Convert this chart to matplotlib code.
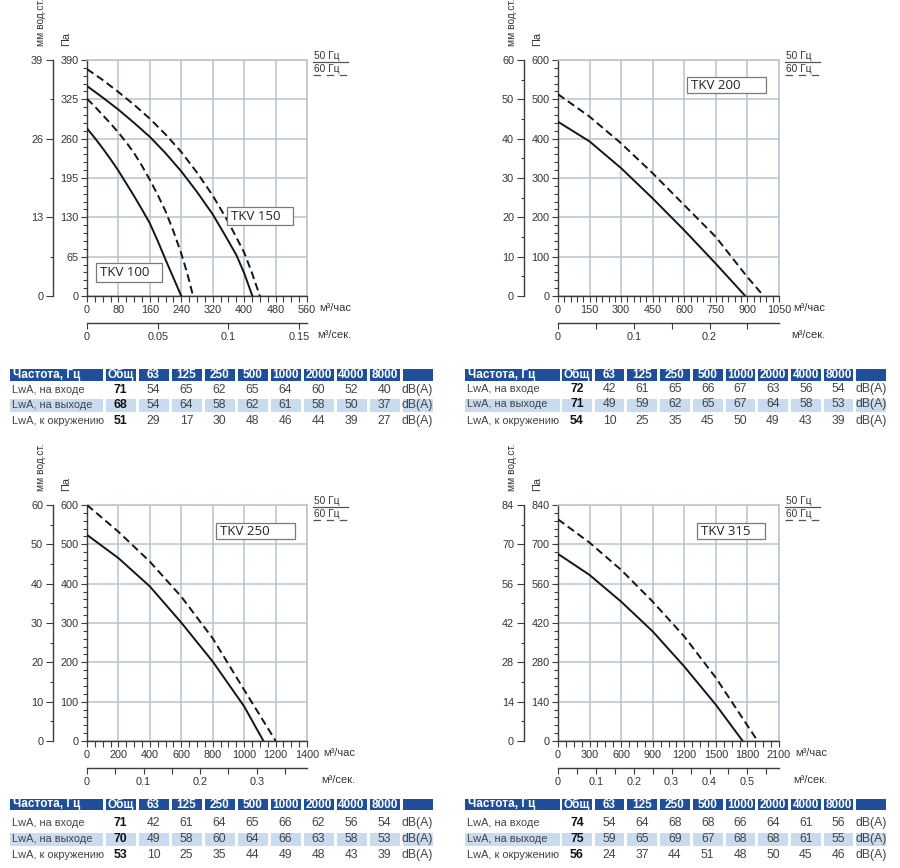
import numpy as np
import matplotlib
matplotlib.use("Agg")
import matplotlib.pyplot as plt
from matplotlib import font_manager
from matplotlib.ticker import MultipleLocator, NullFormatter
from matplotlib.patches import Rectangle

W, H = 900, 868

# ---- кривые: расход (м³/час) и давление (Па) ----
tkv100_q50 = [0, 20, 40, 60, 80, 100, 120, 140, 160, 180, 200, 220, 240]
tkv100_p50 = [277, 261, 244, 226, 207, 186, 165, 143, 120, 91, 60, 30, 0]
tkv100_q60 = [0, 20, 40, 60, 80, 100, 120, 140, 160, 180, 200, 220, 240, 255, 270]
tkv100_p60 = [326, 313, 299, 285, 270, 254, 236, 215, 192, 167, 140, 107, 70, 38, 0]
tkv150_q50 = [0, 40, 80, 120, 160, 200, 240, 280, 320, 350, 380, 400, 421]
tkv150_p50 = [347, 328, 308, 286, 263, 236, 206, 172, 135, 102, 68, 38, 0]
tkv150_q60 = [0, 40, 80, 120, 160, 200, 240, 280, 320, 360, 400, 420, 440]
tkv150_p60 = [375, 357, 337, 316, 293, 267, 238, 204, 166, 122, 72, 38, 0]

tkv200_q50 = [0, 150, 300, 450, 600, 750, 890]
tkv200_p50 = [443, 393, 325, 248, 167, 82, 0]
tkv200_q60 = [0, 150, 300, 450, 600, 750, 900, 977]
tkv200_p60 = [513, 456, 388, 312, 231, 150, 48, 0]

tkv250_q50 = [0, 200, 400, 600, 800, 1000, 1123]
tkv250_p50 = [524, 465, 393, 301, 202, 88, 0]
tkv250_q60 = [0, 200, 400, 600, 800, 1000, 1201]
tkv250_p60 = [600, 532, 456, 367, 261, 130, 0]

tkv315_q50 = [0, 300, 600, 900, 1200, 1500, 1755]
tkv315_p50 = [666, 591, 496, 390, 265, 129, 0]
tkv315_q60 = [0, 300, 600, 900, 1200, 1500, 1897]
tkv315_p60 = [789, 706, 609, 496, 372, 225, 0]

# ---- шумовые таблицы ----
bands = ["63", "125", "250", "500", "1000", "2000", "4000", "8000"]
row_names = ["LwA, на входе", "LwA, на выходе", "LwA, к окружению"]

t150_total = [71, 68, 51]
t150_levels = [[54, 65, 62, 65, 64, 60, 52, 40],
               [54, 64, 58, 62, 61, 58, 50, 37],
               [29, 17, 30, 48, 46, 44, 39, 27]]
t200_total = [72, 71, 54]
t200_levels = [[42, 61, 65, 66, 67, 63, 56, 54],
               [49, 59, 62, 65, 67, 64, 58, 53],
               [10, 25, 35, 45, 50, 49, 43, 39]]
t250_total = [71, 70, 53]
t250_levels = [[42, 61, 64, 65, 66, 62, 56, 54],
               [49, 58, 60, 64, 66, 63, 58, 53],
               [10, 25, 35, 44, 49, 48, 43, 39]]
t315_total = [74, 75, 56]
t315_levels = [[54, 64, 68, 68, 66, 64, 61, 56],
               [59, 65, 69, 67, 68, 68, 61, 55],
               [24, 37, 44, 51, 48, 50, 45, 46]]

# ---- стиль ----
INK = "#151515"
AXC = "#3c3c3c"
GRID = "#b7c4d0"
BLUE = "#1f4f9a"
LIGHT = "#c8dbef"
TXT = "#444444"

names = {f.name for f in font_manager.fontManager.ttflist}
NARROW = "Liberation Sans Narrow" if "Liberation Sans Narrow" in names else "Liberation Sans"
plt.rcParams["font.family"] = ["Liberation Sans", "DejaVu Sans"]

fig = plt.figure(figsize=(W / 100, H / 100), dpi=100)
ov = fig.add_axes([0, 0, 1, 1], zorder=10)
ov.set_xlim(0, W)
ov.set_ylim(H, 0)
ov.axis("off")


def panel(x0, y0, x1, y1, pa_max, pa_step, mm_step, q_max, q_step, q_minor,
          s_ticks, s_minor, curves, boxes, unit_dx):
    ax = fig.add_axes([x0 / W, 1 - y1 / H, (x1 - x0) / W, (y1 - y0) / H])
    for q, p, dashed in curves:
        if dashed:
            ax.plot(q, p, color=INK, lw=1.4, dashes=(4, 2.2), zorder=3)
        else:
            ax.plot(q, p, color=INK, lw=1.4, zorder=3)
    ax.set_xlim(0, q_max)
    ax.set_ylim(0, pa_max)
    qt = np.arange(0, q_max + 1, q_step)
    ax.set_xticks(qt, labels=[f"{v:g}" for v in qt])
    ax.xaxis.set_minor_locator(MultipleLocator(q_minor))
    pt = np.arange(0, pa_max + 1, pa_step)
    ax.set_yticks(pt, labels=[f"{v:g}" for v in pt])
    ax.yaxis.set_minor_locator(MultipleLocator(pa_step / 5))
    ax.grid(True, which="major", color=GRID, lw=1.1, zorder=1)
    for s in ("top", "right"):
        ax.spines[s].set_color(GRID)
        ax.spines[s].set_linewidth(1.1)
    for s in ("left", "bottom"):
        ax.spines[s].set_color(AXC)
        ax.spines[s].set_linewidth(1.0)
    ax.tick_params(which="both", direction="out", color=AXC, width=0.8,
                   labelsize=7.8, labelcolor="#333333", pad=2)
    ax.tick_params(axis="y", which="major", length=4)
    ax.tick_params(axis="y", which="minor", length=3)
    ax.tick_params(axis="x", which="both", length=4.5)

    # мм вод.ст.
    mm_max = pa_max / 10
    mm = ax.secondary_yaxis(-0.155, functions=(lambda p: p / 10, lambda m: m * 10))
    mt = np.arange(0, mm_max + 0.01, mm_step)
    mm.set_ticks(mt, labels=[f"{v:g}" for v in mt])
    mm.set_ticks(np.arange(mm_step / 2, mm_max, mm_step), minor=True)
    mm.yaxis.set_minor_formatter(NullFormatter())
    mm.spines["left"].set_color(AXC)
    mm.spines["left"].set_linewidth(1.0)
    mm.tick_params(which="both", color=AXC, width=0.8, labelsize=7.8,
                   labelcolor="#333333", pad=2)
    mm.tick_params(which="major", length=5)
    mm.tick_params(which="minor", length=2.5)

    # м³/сек.
    sx = ax.secondary_xaxis(-0.114, functions=(lambda q: q / 3600, lambda s: s * 3600))
    sx.set_ticks(s_ticks, labels=[f"{v:g}" for v in s_ticks])
    if s_minor:
        sx.set_ticks(np.arange(s_minor, q_max / 3600, s_minor), minor=True)
    else:
        sx.set_ticks([], minor=True)
    sx.xaxis.set_minor_formatter(NullFormatter())
    sx.spines["bottom"].set_color(AXC)
    sx.spines["bottom"].set_linewidth(1.0)
    sx.tick_params(which="both", direction="out", length=4.5, color=AXC, width=0.8,
                   labelsize=7.8, labelcolor="#333333", pad=2)

    # подписи единиц
    ov.text(x1 + unit_dx, y1 + 12, "м³/час", fontsize=8, color="#333333",
            ha="left", va="center")
    ov.text(x1 + unit_dx - 2, y1 + 39, "м³/сек.", fontsize=8, color="#333333",
            ha="left", va="center")
    ov.text(x0 - 46, y0 - 14, "мм вод.ст.", fontsize=7.3, color="#333333",
            rotation=90, ha="center", va="bottom")
    ov.text(x0 - 21, y0 - 14, "Па", fontsize=7.8, color="#333333",
            rotation=90, ha="center", va="bottom")

    # легенда 50/60 Гц
    lx0, lx1 = x1 + 6, x1 + 41
    ov.text(lx0 + 1, y0 - 4, "50 Гц", fontsize=7.3, color="#333333", ha="left", va="center")
    ov.plot([lx0, lx1], [y0 + 2, y0 + 2], color="#555555", lw=0.9)
    ov.text(lx0 + 1, y0 + 9, "60 Гц", fontsize=7.3, color="#333333", ha="left", va="center")
    ov.plot([lx0, lx1], [y0 + 15, y0 + 15], color="#555555", lw=0.9,
            linestyle=(0, (6, 4.5)))

    # рамки с названиями
    for bx0, by0, bx1, by1, label in boxes:
        ov.add_patch(Rectangle((bx0, by0), bx1 - bx0, by1 - by0, fc="white",
                               ec="#7a7a7a", lw=0.9))
        ov.text(bx0 + 4, (by0 + by1) / 2 + 0.5, label, family="Open Sans",
                fontsize=9.5, color="#222222", ha="left", va="center")


def table(xl0, xl1, xc0, pitch, y_head, head_h, row_y, hl_top, hl_h, totals, levels):
    cw = pitch - 3
    ov.add_patch(Rectangle((xl0, y_head), xl1 - xl0, head_h, color=BLUE, lw=0))
    ov.text(xl0 + 3, y_head + head_h / 2, "Частота, Гц", family=NARROW, fontsize=8.5,
            fontweight="bold", color="white", ha="left", va="center")
    cols = ["Общ"] + bands + [""]
    for i, lab in enumerate(cols):
        cx = xc0 + i * pitch
        ov.add_patch(Rectangle((cx, y_head), cw, head_h, color=BLUE, lw=0))
        ov.text(cx + cw / 2, y_head + head_h / 2, lab, family=NARROW, fontsize=8.5,
                fontweight="bold", color="white", ha="center", va="center")
    # подсветка второй строки
    ov.add_patch(Rectangle((xl0, hl_top), xl1 - xl0, hl_h, color=LIGHT, lw=0))
    for i in range(len(cols)):
        ov.add_patch(Rectangle((xc0 + i * pitch, hl_top), cw, hl_h, color=LIGHT, lw=0))
    for r, name in enumerate(row_names):
        y = row_y[r]
        ov.text(xl0 + 2, y, name, family=NARROW, fontsize=7.9, color=TXT,
                ha="left", va="center")
        ov.text(xc0 + cw / 2, y, str(totals[r]), family=NARROW, fontsize=8.8,
                fontweight="bold", color="#111111", ha="center", va="center")
        for k, v in enumerate(levels[r]):
            ov.text(xc0 + (k + 1) * pitch + cw / 2, y, str(v), family=NARROW,
                    fontsize=8.8, color=TXT, ha="center", va="center")
        ov.text(xc0 + 9 * pitch + cw / 2, y, "dB(A)", family=NARROW, fontsize=8.8,
                color=TXT, ha="center", va="center")


panel(87, 60, 307, 296, 390, 65, 13, 560, 80, 20, [0, 0.05, 0.1, 0.15], None,
      [(tkv100_q50, tkv100_p50, False), (tkv100_q60, tkv100_p60, True),
       (tkv150_q50, tkv150_p50, False), (tkv150_q60, tkv150_p60, True)],
      [(227, 207, 293, 225, "TKV 150"), (96, 263, 162, 282, "TKV 100")], 12)
panel(558, 60, 779, 296, 600, 100, 10, 1050, 150, 30, [0, 0.1, 0.2], 0.05,
      [(tkv200_q50, tkv200_p50, False), (tkv200_q60, tkv200_p60, True)],
      [(687, 77, 766, 93, "TKV 200")], 14)
panel(87, 505, 307, 741, 600, 100, 10, 1400, 200, 50, [0, 0.1, 0.2, 0.3], 0.05,
      [(tkv250_q50, tkv250_p50, False), (tkv250_q60, tkv250_p60, True)],
      [(216, 523, 295, 539, "TKV 250")], 16)
panel(558, 505, 779, 741, 840, 140, 14, 2100, 300, 75, [0, 0.1, 0.2, 0.3, 0.4, 0.5], 0.05,
      [(tkv315_q50, tkv315_p50, False), (tkv315_q60, tkv315_p60, True)],
      [(697, 523, 765, 539, "TKV 315")], 16)

table(10, 103, 105.5, 33.0, 369, 11.5, [390, 405, 421], 399, 12.5, t150_total, t150_levels)
table(465, 560, 562, 32.7, 369, 11.5, [389, 404, 421], 399, 12.5, t200_total, t200_levels)
table(10, 103, 105.5, 33.0, 799, 11, [823, 839, 855], 833, 12.5, t250_total, t250_levels)
table(465, 560, 562, 32.7, 799, 11, [823, 839, 855], 833, 12.5, t315_total, t315_levels)

fig.savefig("out.png", dpi=100)
